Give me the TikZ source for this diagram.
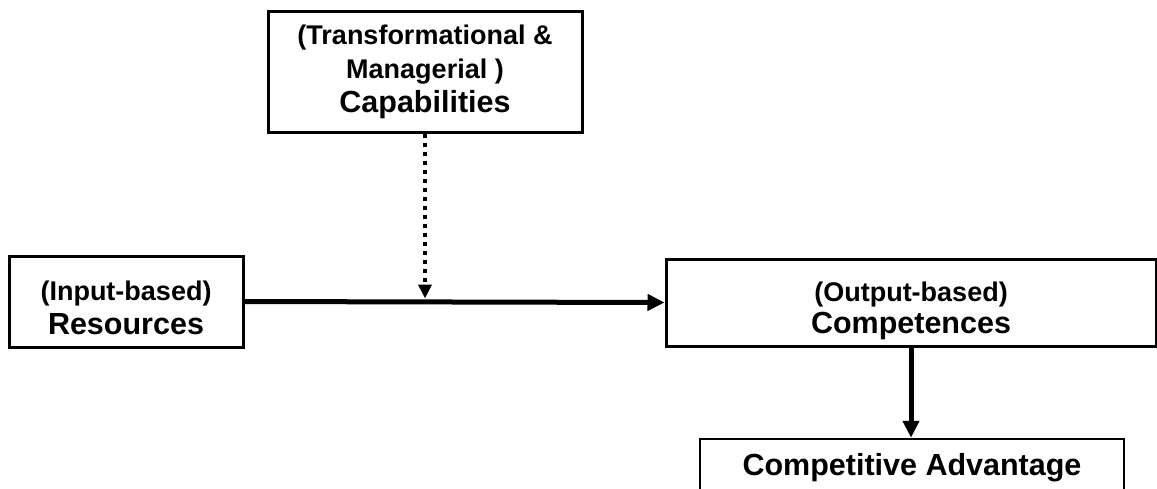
\documentclass[tikz,border=0pt]{standalone}
\usepackage{fontspec}
\setmainfont{Liberation Sans}
\usetikzlibrary{arrows.meta}
\begin{document}
\begin{tikzpicture}[x=1pt,y=-1pt,
  box/.style={draw=black, line width=3pt, fill=white, align=center, inner sep=0pt,
    font=\fontsize{30.5}{34}\selectfont\bfseries},
  flow/.style={line width=5pt, -{Triangle[length=17pt,width=16pt]}},
  hint/.style={line width=4pt, dash pattern=on 4pt off 5pt,
    -{Triangle[length=14pt,width=13pt]}}]
  \clip (0,0) rectangle (1157,488);
  \useasboundingbox (0,0) rectangle (1157,488);

  % boxes (a tall strut on the first line pushes the text block down a little)
  \node[box, minimum width=314pt, minimum height=121pt] (cap) at (425,71.5)
    {{\fontsize{27}{35}\selectfont (Transformational \&}\\
     {\fontsize{27}{35}\selectfont Managerial )}\\ Capabilities};
  \node[box, minimum width=234pt, minimum height=91pt] (res) at (126,301.5)
    {{\fontsize{27}{34}\selectfont\rule{0pt}{32pt}(Input-based)}\\ Resources};
  \node[box, minimum width=490pt, minimum height=87pt] (comp) at (911,302.5)
    {{\fontsize{27}{32}\selectfont\rule{0pt}{36pt}(Output-based)}\\[-2pt] Competences};
  \node[box, line width=2.5pt, minimum width=424pt, minimum height=58pt] (ca) at (912,468)
    {Competitive Advantage};

  % connectors
  \draw[flow] (res.east) -- (comp.west);
  \draw[hint, shorten >=3pt] (cap.south) -- (cap.south |- res.east);
  \draw[flow] (comp.south) -- (comp.south |- ca.north);
\end{tikzpicture}
\end{document}
